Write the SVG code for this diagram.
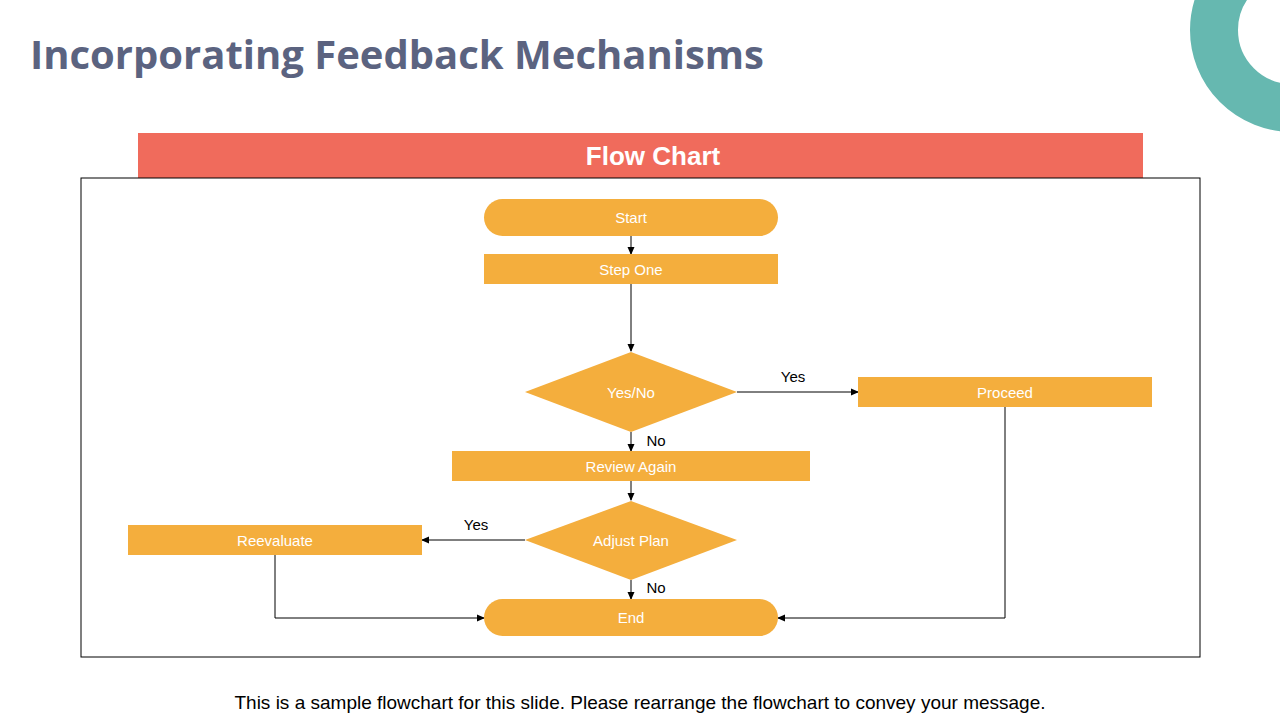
<svg xmlns="http://www.w3.org/2000/svg" width="1280" height="720" viewBox="0 0 1280 720">
<style>
.n{fill:#f4ae3d}
.t{font-family:"Liberation Sans",Arial,sans-serif;font-size:15px;fill:#fff;text-anchor:middle}
.l{font-family:"Liberation Sans",Arial,sans-serif;font-size:15px;fill:#000;text-anchor:middle}
.c{fill:none;stroke:#000;stroke-width:1;marker-end:url(#a)}
</style>
<defs><marker id="a" markerWidth="8" markerHeight="8" refX="7" refY="4" orient="auto" markerUnits="userSpaceOnUse"><path d="M0,0.5 L8,4 L0,7.5z" fill="#000"/></marker></defs>
<rect width="1280" height="720" fill="#fff"/>
<circle cx="1292" cy="30" r="78" fill="none" stroke="#66b8b0" stroke-width="48"/>
<text x="30" y="69" font-family="'Open Sans','Liberation Sans',sans-serif" font-size="40" font-weight="bold" fill="#5b6380">Incorporating Feedback Mechanisms</text>
<rect x="138" y="133" width="1005" height="45" fill="#f06b5c"/>
<text x="653" y="165" font-family="'Liberation Sans',Arial,sans-serif" font-size="26" font-weight="bold" fill="#fff" text-anchor="middle">Flow Chart</text>
<rect x="81" y="178" width="1119" height="479" fill="none" stroke="#000" stroke-width="1"/>
<g id="connectors">
<path class="c" d="M631,236V254"/>
<path class="c" d="M631,284V351"/>
<path class="c" d="M737,392H858"/>
<path class="c" d="M631,432V451"/>
<path class="c" d="M631,481V500"/>
<path class="c" d="M525,540H422"/>
<path class="c" d="M631,580V599"/>
<path class="c" d="M275,555V618H484"/>
<path class="c" d="M1005,407V618H778"/>
<text class="l" x="793" y="382">Yes</text>
<text class="l" x="656" y="446">No</text>
<text class="l" x="476" y="530">Yes</text>
<text class="l" x="656" y="593">No</text>
</g>
<g id="start"><rect class="n" x="484" y="199" width="294" height="37" rx="18.5"/><text class="t" x="631" y="223">Start</text></g>
<g id="step1"><rect class="n" x="484" y="254" width="294" height="30"/><text class="t" x="631" y="275">Step One</text></g>
<g id="yesno"><path class="n" d="M631,352L737,392L631,432L525,392z"/><text class="t" x="631" y="398">Yes/No</text></g>
<g id="proceed"><rect class="n" x="858" y="377" width="294" height="30"/><text class="t" x="1005" y="398">Proceed</text></g>
<g id="review"><rect class="n" x="452" y="451" width="358" height="30"/><text class="t" x="631" y="472">Review Again</text></g>
<g id="adjust"><path class="n" d="M631,501L737,540L631,580L525,540z"/><text class="t" x="631" y="546">Adjust Plan</text></g>
<g id="reevaluate"><rect class="n" x="128" y="525" width="294" height="30"/><text class="t" x="275" y="546">Reevaluate</text></g>
<g id="end"><rect class="n" x="484" y="599" width="294" height="37" rx="18.5"/><text class="t" x="631" y="623">End</text></g>
<text x="640" y="709" font-family="'Liberation Sans',Arial,sans-serif" font-size="19" fill="#000" text-anchor="middle">This is a sample flowchart for this slide. Please rearrange the flowchart to convey your message.</text>
</svg>
